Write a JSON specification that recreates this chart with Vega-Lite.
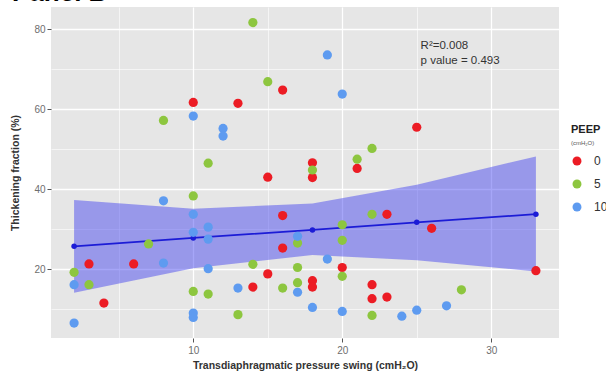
{
  "$schema": "https://vega.github.io/schema/vega-lite/v6.json",
  "autosize": {"type": "none"},
  "width": 508,
  "height": 331,
  "padding": {"left": 51, "top": 7, "right": 47, "bottom": 35},
  "background": "white",
  "title": {"text": "Panel B", "anchor": "start", "frame": "group", "dx": -39, "dy": 20, "offset": 0, "baseline": "alphabetic", "fontSize": 26, "fontWeight": "bold", "font": "Liberation Sans", "color": "black"},
  "config": {"view": {"fill": "#e6e6e6", "stroke": null}, "font": "Liberation Sans"},
  "datasets": {
    "fit": [
      {"x": 2, "fit": 25.7, "lo": 14.1, "hi": 37.3},
      {"x": 10, "fit": 27.8, "lo": 20.2, "hi": 35.1},
      {"x": 18, "fit": 29.8, "lo": 23.5, "hi": 36.4},
      {"x": 25, "fit": 31.7, "lo": 22.2, "hi": 41.1},
      {"x": 33, "fit": 33.75, "lo": 19.4, "hi": 48.2}
    ],
    "pts": [
      {"x": 16, "y": 64.8, "PEEP": "0"},
      {"x": 10, "y": 61.7, "PEEP": "0"},
      {"x": 13, "y": 61.5, "PEEP": "0"},
      {"x": 15, "y": 43.0, "PEEP": "0"},
      {"x": 25, "y": 55.5, "PEEP": "0"},
      {"x": 21, "y": 45.2, "PEEP": "0"},
      {"x": 18, "y": 46.6, "PEEP": "0"},
      {"x": 18, "y": 42.9, "PEEP": "0"},
      {"x": 16, "y": 33.4, "PEEP": "0"},
      {"x": 16, "y": 25.25, "PEEP": "0"},
      {"x": 3, "y": 21.3, "PEEP": "0"},
      {"x": 6, "y": 21.3, "PEEP": "0"},
      {"x": 15, "y": 18.8, "PEEP": "0"},
      {"x": 4, "y": 11.5, "PEEP": "0"},
      {"x": 14, "y": 15.5, "PEEP": "0"},
      {"x": 23, "y": 33.7, "PEEP": "0"},
      {"x": 26, "y": 30.2, "PEEP": "0"},
      {"x": 20, "y": 20.4, "PEEP": "0"},
      {"x": 18, "y": 17.1, "PEEP": "0"},
      {"x": 18, "y": 15.5, "PEEP": "0"},
      {"x": 22, "y": 16.1, "PEEP": "0"},
      {"x": 22, "y": 12.6, "PEEP": "0"},
      {"x": 23, "y": 13.0, "PEEP": "0"},
      {"x": 33, "y": 19.6, "PEEP": "0"},
      {"x": 14, "y": 81.7, "PEEP": "5"},
      {"x": 15, "y": 66.9, "PEEP": "5"},
      {"x": 8, "y": 57.2, "PEEP": "5"},
      {"x": 11, "y": 46.5, "PEEP": "5"},
      {"x": 22, "y": 50.2, "PEEP": "5"},
      {"x": 21, "y": 47.5, "PEEP": "5"},
      {"x": 18, "y": 44.8, "PEEP": "5"},
      {"x": 10, "y": 38.3, "PEEP": "5"},
      {"x": 7, "y": 26.3, "PEEP": "5"},
      {"x": 17, "y": 26.5, "PEEP": "5"},
      {"x": 2, "y": 19.2, "PEEP": "5"},
      {"x": 14, "y": 21.2, "PEEP": "5"},
      {"x": 17, "y": 20.4, "PEEP": "5"},
      {"x": 3, "y": 16.1, "PEEP": "5"},
      {"x": 10, "y": 14.4, "PEEP": "5"},
      {"x": 11, "y": 13.75, "PEEP": "5"},
      {"x": 16, "y": 15.25, "PEEP": "5"},
      {"x": 17, "y": 16.6, "PEEP": "5"},
      {"x": 13, "y": 8.6, "PEEP": "5"},
      {"x": 22, "y": 33.7, "PEEP": "5"},
      {"x": 20, "y": 31.1, "PEEP": "5"},
      {"x": 20, "y": 27.2, "PEEP": "5"},
      {"x": 20, "y": 18.2, "PEEP": "5"},
      {"x": 28, "y": 14.8, "PEEP": "5"},
      {"x": 22, "y": 8.4, "PEEP": "5"},
      {"x": 10, "y": 58.3, "PEEP": "10"},
      {"x": 12, "y": 55.2, "PEEP": "10"},
      {"x": 12, "y": 53.3, "PEEP": "10"},
      {"x": 19, "y": 73.6, "PEEP": "10"},
      {"x": 20, "y": 63.8, "PEEP": "10"},
      {"x": 8, "y": 37.1, "PEEP": "10"},
      {"x": 10, "y": 33.7, "PEEP": "10"},
      {"x": 11, "y": 30.5, "PEEP": "10"},
      {"x": 10, "y": 29.2, "PEEP": "10"},
      {"x": 11, "y": 27.5, "PEEP": "10"},
      {"x": 17, "y": 28.2, "PEEP": "10"},
      {"x": 8, "y": 21.5, "PEEP": "10"},
      {"x": 11, "y": 20.1, "PEEP": "10"},
      {"x": 2, "y": 16.1, "PEEP": "10"},
      {"x": 2, "y": 6.5, "PEEP": "10"},
      {"x": 13, "y": 15.25, "PEEP": "10"},
      {"x": 17, "y": 14.2, "PEEP": "10"},
      {"x": 10, "y": 9.0, "PEEP": "10"},
      {"x": 10, "y": 7.9, "PEEP": "10"},
      {"x": 19, "y": 22.5, "PEEP": "10"},
      {"x": 18, "y": 10.4, "PEEP": "10"},
      {"x": 20, "y": 9.4, "PEEP": "10"},
      {"x": 24, "y": 8.2, "PEEP": "10"},
      {"x": 25, "y": 9.7, "PEEP": "10"},
      {"x": 27, "y": 10.8, "PEEP": "10"}
    ]
  },
  "layer": [
    {
      "data": {"name": "fit"},
      "mark": {"type": "area", "color": "#3a3af0", "opacity": 0.45},
      "encoding": {
        "x": {
          "field": "x", "type": "quantitative",
          "scale": {"domain": [0.45, 34.55], "nice": false, "zero": false},
          "axis": {
            "values": [5, 10, 15, 20, 25, 30],
            "title": "Transdiaphragmatic pressure swing (cmH₂O)",
            "labelExpr": "datum.value % 10 == 0 ? datum.label : ''",
            "tickOpacity": {"condition": {"test": "datum.value % 10 == 0", "value": 1}, "value": 0},
            "gridWidth": {"condition": {"test": "datum.value % 10 == 0", "value": 1.3}, "value": 0.6},
            "gridColor": "white", "gridOpacity": 1, "domain": false,
            "tickColor": "#555", "tickSize": 4, "tickWidth": 1,
            "labelColor": "#6e6e6e", "labelFontSize": 10, "labelPadding": 3,
            "titleFontSize": 10.5, "titleFontWeight": "bold", "titleColor": "#333", "titlePadding": 5
          }
        },
        "y": {
          "field": "lo", "type": "quantitative",
          "scale": {"domain": [2.75, 85.6], "nice": false, "zero": false},
          "axis": {
            "values": [10, 20, 30, 40, 50, 60, 70, 80],
            "title": "Thickening fraction (%)",
            "labelExpr": "datum.value % 20 == 0 ? datum.label : ''",
            "tickOpacity": {"condition": {"test": "datum.value % 20 == 0", "value": 1}, "value": 0},
            "gridWidth": {"condition": {"test": "datum.value % 20 == 0", "value": 1.3}, "value": 0.6},
            "gridColor": "white", "gridOpacity": 1, "domain": false,
            "tickColor": "#555", "tickSize": 4, "tickWidth": 1,
            "labelColor": "#6e6e6e", "labelFontSize": 10, "labelPadding": 2,
            "titleFontSize": 10.5, "titleFontWeight": "bold", "titleColor": "#333", "titlePadding": 13
          }
        },
        "y2": {"field": "hi"}
      }
    },
    {
      "data": {"name": "fit"},
      "mark": {"type": "line", "color": "#1c1cd6", "strokeWidth": 1.8, "point": {"filled": true, "size": 30, "color": "#1c1cd6"}},
      "encoding": {
        "x": {"field": "x", "type": "quantitative", "title": "Transdiaphragmatic pressure swing (cmH₂O)"},
        "y": {"field": "fit", "type": "quantitative", "title": "Thickening fraction (%)"}
      }
    },
    {
      "data": {"name": "pts"},
      "mark": {"type": "circle", "size": 85, "opacity": 1},
      "encoding": {
        "x": {"field": "x", "type": "quantitative", "title": "Transdiaphragmatic pressure swing (cmH₂O)"},
        "y": {"field": "y", "type": "quantitative", "title": "Thickening fraction (%)"},
        "color": {
          "field": "PEEP", "type": "nominal",
          "scale": {"domain": ["0", "5", "10"], "range": ["#ec1c24", "#8dc63f", "#5e9bf0"]},
          "legend": {
            "title": "PEEP", "orient": "none", "legendX": 520, "legendY": 117,
            "titleFontSize": 11, "titleFontWeight": "bold", "titleColor": "#222", "titlePadding": 20,
            "symbolType": "circle", "symbolSize": 80, "symbolStrokeWidth": 0,
            "labelFontSize": 12, "labelColor": "#333", "labelOffset": 11, "rowPadding": 11
          }
        }
      }
    },
    {
      "data": {"values": [{}]},
      "mark": {"type": "text", "text": ["R²=0.008", "p value = 0.493"], "align": "left", "baseline": "top", "fontSize": 11.5, "lineHeight": 15, "color": "#333"},
      "encoding": {
        "x": {"datum": 25.26, "type": "quantitative"},
        "y": {"datum": 77.4, "type": "quantitative"}
      }
    },
    {
      "data": {"values": [{}]},
      "mark": {"type": "text", "text": "(cmH₂O)", "align": "left", "baseline": "middle", "fontSize": 6, "color": "#555"},
      "encoding": {
        "x": {"datum": 35.35, "type": "quantitative"},
        "y": {"datum": 51.6, "type": "quantitative"}
      }
    }
  ]
}
